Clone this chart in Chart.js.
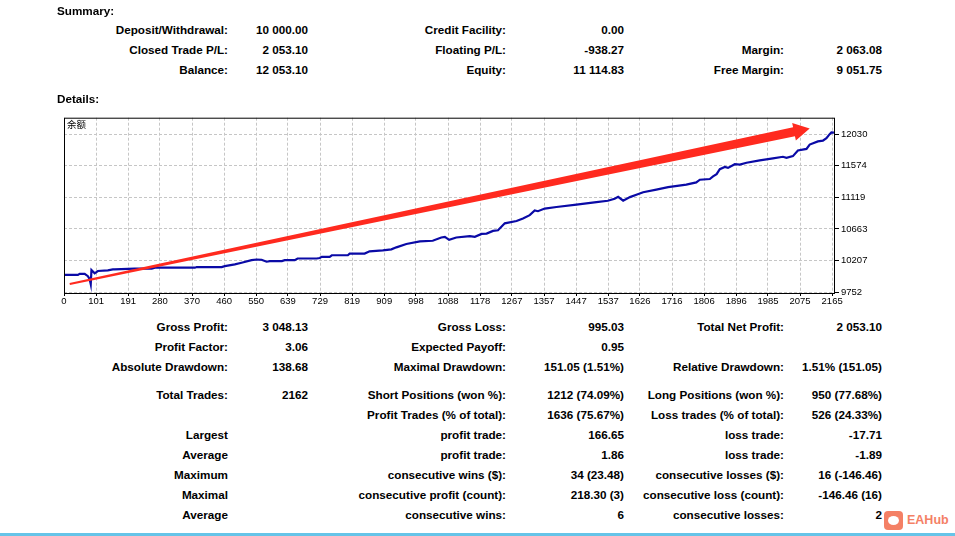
<!DOCTYPE html>
<html>
<head>
<meta charset="utf-8">
<script src="https://cdn.jsdelivr.net/npm/chart.js@4.4.0/dist/chart.umd.min.js"></script>
<style>
  body { margin: 0; background: #fff; width: 955px; height: 536px; overflow: hidden; position: relative;
         font-family: "Liberation Sans", Arial, sans-serif; font-weight: bold; font-size: 11.7px; color: #000; }
  .t { position: absolute; white-space: nowrap; line-height: 14px; }
  #chartBox { position: absolute; left: 0; top: 110px; width: 900px; height: 200px; }
  #tag { position: absolute; left: 67px; top: 117px; font: 9.5px "Noto Sans CJK SC", sans-serif; }
  #bar { position: absolute; left: 0; top: 533px; width: 955px; height: 3px; background: #66c4e8; }
  #logo { position: absolute; left: 884px; top: 511px; width: 19px; height: 19px; border-radius: 4px;
          background: #f36b4b; opacity: .85; }
  #logo:after { content: ""; position: absolute; left: 4px; top: 5px; width: 11px; height: 9px;
                border-radius: 50%; background: #fff; }
  #logoTxt { position: absolute; left: 907px; top: 513px; color: #f36b4b; opacity: .85; font-size: 12.5px; }
</style>
</head>
<body>
<div id="chartBox"><canvas id="balanceChart" width="900" height="200"></canvas></div>
<div id="tag">余额</div>
<div id="bar"></div>
<div id="logo"></div>
<div id="logoTxt">EAHub</div>
<script>
// balance curve (trade number / balance)
const tradeIdx = [11, 50, 55, 69, 78, 83, 86, 88, 97, 106, 134, 148, 153, 209, 257, 266, 378, 383, 453, 462,
  490, 509, 537, 551, 565, 579, 588, 622, 630, 658, 666, 720, 728, 734, 756, 762, 807, 812, 854, 868,
  905, 929, 943, 971, 1009, 1045, 1069, 1079, 1091, 1111, 1149, 1163, 1182, 1196, 1214, 1228, 1247, 1280, 1298, 1317,
  1331, 1340, 1359, 1392, 1448, 1504, 1536, 1555, 1565, 1579, 1598, 1616, 1635, 1672, 1705, 1756, 1784, 1794, 1822, 1831,
  1841, 1850, 1864, 1873, 1892, 1906, 1925, 1962, 1999, 2027, 2037, 2055, 2069, 2093, 2102, 2125, 2139, 2149, 2158, 2163, 2170];
const balance = [10000, 10000, 10015, 10015, 9982, 9939, 9868, 10071, 10024, 10057, 10067, 10081, 10081, 10091, 10091, 10105, 10105, 10114, 10114, 10128,
  10152, 10176, 10213, 10223, 10219, 10191, 10199, 10199, 10213, 10213, 10237, 10237, 10244, 10261, 10261, 10284, 10284, 10308, 10308, 10341,
  10355, 10369, 10398, 10446, 10483, 10493, 10540, 10550, 10507, 10540, 10560, 10550, 10592, 10596, 10635, 10645, 10744, 10777, 10815, 10862,
  10929, 10919, 10957, 10980, 11014, 11051, 11070, 11099, 11127, 11070, 11122, 11156, 11193, 11231, 11266, 11302, 11334, 11373, 11383, 11420,
  11454, 11525, 11557, 11543, 11596, 11590, 11618, 11652, 11681, 11704, 11689, 11713, 11794, 11817, 11880, 11926, 11936, 11973, 12030, 12054, 12053];

const xTickLabels = [0, 101, 191, 280, 370, 460, 550, 639, 729, 819, 909, 998, 1088, 1178, 1267, 1357, 1447,
  1537, 1626, 1716, 1806, 1896, 1985, 2075, 2165];
const yTickLabels = [9752, 10207, 10663, 11119, 11574, 12030];

// red arrow drawn over the chart, in data units: [trade, balance]
const arrowFrom = [27, 9870];
const arrowTo = [2102, 12112];

// report text rows: label, value, label, value, label, value
const summaryRows = [
  ["Deposit/Withdrawal:", "10 000.00", "Credit Facility:", "0.00", "", ""],
  ["Closed Trade P/L:", "2 053.10", "Floating P/L:", "-938.27", "Margin:", "2 063.08"],
  ["Balance:", "12 053.10", "Equity:", "11 114.83", "Free Margin:", "9 051.75"]
];
const detailRows = [
  ["Gross Profit:", "3 048.13", "Gross Loss:", "995.03", "Total Net Profit:", "2 053.10"],
  ["Profit Factor:", "3.06", "Expected Payoff:", "0.95", "", ""],
  ["Absolute Drawdown:", "138.68", "Maximal Drawdown:", "151.05 (1.51%)", "Relative Drawdown:", "1.51% (151.05)"],
  ["Total Trades:", "2162", "Short Positions (won %):", "1212 (74.09%)", "Long Positions (won %):", "950 (77.68%)"],
  ["", "", "Profit Trades (% of total):", "1636 (75.67%)", "Loss trades (% of total):", "526 (24.33%)"],
  ["Largest", "", "profit trade:", "166.65", "loss trade:", "-17.71"],
  ["Average", "", "profit trade:", "1.86", "loss trade:", "-1.89"],
  ["Maximum", "", "consecutive wins ($):", "34 (23.48)", "consecutive losses ($):", "16 (-146.46)"],
  ["Maximal", "", "consecutive profit (count):", "218.30 (3)", "consecutive loss (count):", "-146.46 (16)"],
  ["Average", "", "consecutive wins:", "6", "consecutive losses:", "2"]
];

const colRight = [228, 308, 506, 624, 784, 882];
const summaryY = [30, 50, 70];
const detailY = [327, 347, 367, 395, 415, 435, 455, 475, 495, 515];

function put(text, x, y, alignRight) {
  const d = document.createElement("div");
  d.className = "t";
  d.textContent = text;
  d.style.top = (y - 7) + "px";
  if (alignRight) d.style.right = (955 - x) + "px";
  else d.style.left = x + "px";
  document.body.appendChild(d);
}
put("Summary:", 57, 11, false);
put("Details:", 57, 99, false);
summaryRows.forEach((row, r) => row.forEach((s, c) => { if (s) put(s, colRight[c], summaryY[r], true); }));
detailRows.forEach((row, r) => row.forEach((s, c) => { if (s) put(s, colRight[c], detailY[r], true); }));

const frameAndArrow = {
  id: "frameAndArrow",
  afterDatasetsDraw(chart) {
    const { ctx, chartArea: a, scales } = chart;
    ctx.save();
    ctx.strokeStyle = "#000";
    ctx.lineWidth = 1;
    ctx.strokeRect(a.left + 0.5, a.top + 0.5, a.right - a.left - 1, a.bottom - a.top);

    const x0 = scales.x.getPixelForValue(arrowFrom[0]), y0 = scales.y.getPixelForValue(arrowFrom[1]);
    const x1 = scales.x.getPixelForValue(arrowTo[0]), y1 = scales.y.getPixelForValue(arrowTo[1]);
    const len = Math.hypot(x1 - x0, y1 - y0);
    const dx = (x1 - x0) / len, dy = (y1 - y0) / len;
    const nx = -dy, ny = dx;
    const headLen = 16, headW = 9, tailW = 1, neckW = 4.5;
    const bx = x1 - dx * headLen, by = y1 - dy * headLen;
    ctx.fillStyle = "#ff2a1f";
    ctx.beginPath();
    ctx.moveTo(x0 + nx * tailW, y0 + ny * tailW);
    ctx.lineTo(bx + nx * neckW, by + ny * neckW);
    ctx.lineTo(bx + nx * headW, by + ny * headW);
    ctx.lineTo(x1, y1);
    ctx.lineTo(bx - nx * headW, by - ny * headW);
    ctx.lineTo(bx - nx * neckW, by - ny * neckW);
    ctx.lineTo(x0 - nx * tailW, y0 - ny * tailW);
    ctx.closePath();
    ctx.fill();
    ctx.restore();
  }
};

const tickFont = { family: "Liberation Sans", size: 9.5 };

new Chart(document.getElementById("balanceChart"), {
  type: "line",
  data: {
    datasets: [{
      data: tradeIdx.map((x, i) => ({ x: x, y: balance[i] })),
      borderColor: "#0a0aa6",
      borderWidth: 2.2,
      pointRadius: 0,
      tension: 0
    }]
  },
  options: {
    responsive: false,
    animation: false,
    devicePixelRatio: 1,
    layout: { padding: { left: 64, top: 5, right: 0, bottom: 0 } },
    plugins: { legend: { display: false }, tooltip: { enabled: false } },
    scales: {
      x: {
        type: "linear",
        min: 11,
        max: 2173,
        afterBuildTicks: s => { s.ticks = xTickLabels.map(v => ({ value: Math.max(v, 11) })); },
        afterFit: s => { s.height = 17; },
        ticks: { autoSkip: false, maxRotation: 0, padding: 0, color: "#000", font: tickFont,
                 callback: (v, i) => xTickLabels[i] },
        grid: { color: "#c6c6c6", borderDash: [3, 2], tickLength: 3, tickColor: "#000", tickBorderDash: [] },
        border: { display: false, dash: [3, 2] }
      },
      y: {
        position: "right",
        min: 9740,
        max: 12267,
        afterBuildTicks: s => { s.ticks = yTickLabels.map(v => ({ value: v })); },
        afterFit: s => { s.width = 65; },
        ticks: { padding: 2, color: "#000", font: tickFont, callback: v => v },
        grid: { color: "#c6c6c6", borderDash: [3, 2], tickLength: 4, tickColor: "#000", tickBorderDash: [] },
        border: { display: false, dash: [3, 2] }
      }
    }
  },
  plugins: [frameAndArrow]
});
</script>
</body>
</html>
